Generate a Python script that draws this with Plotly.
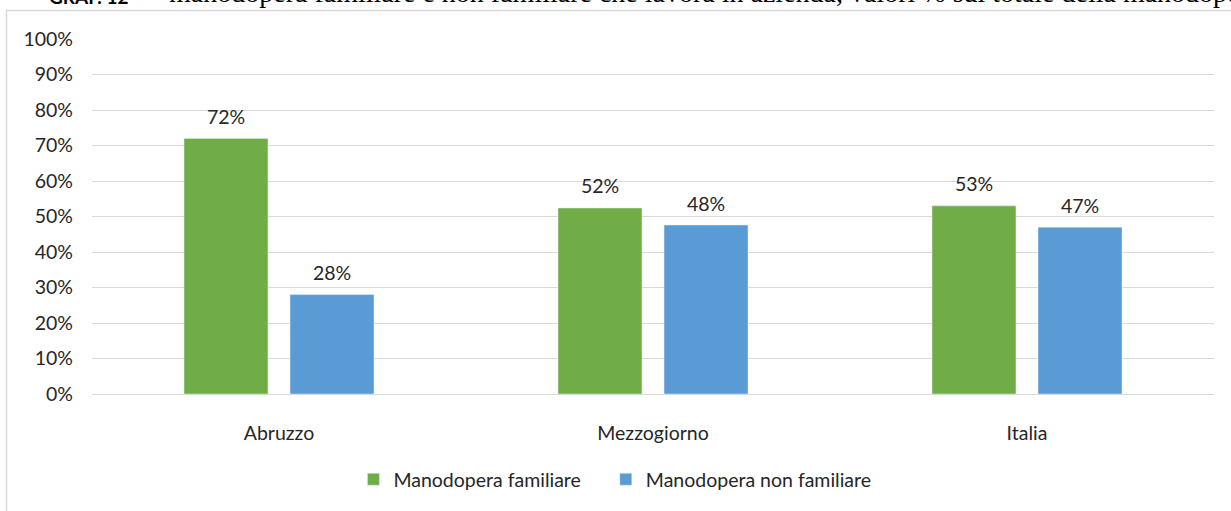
import plotly.graph_objects as go

categories = ["Abruzzo", "Mezzogiorno", "Italia"]
familiare = [72, 52.4, 53]
non_familiare = [28, 47.6, 47]
labels_familiare = ["72%", "52%", "53%"]
labels_non_familiare = ["28%", "48%", "47%"]
y_ticks = list(range(0, 101, 10))

green = "#70AD47"
blue = "#5B9BD5"
txt = "#262626"
sans = "Lato"
fs = 19.5

bargap = 0.433
fig = go.Figure()
fig.add_trace(go.Bar(x=categories, y=familiare,
                     name="Manodopera familiare" + "\u00a0" * 4,
                     marker_color=green))
fig.add_trace(go.Bar(x=categories, y=non_familiare, name="Manodopera non familiare",
                     marker_color=blue))

# value labels above each bar (offset = half a bar slot)
off = (1 - bargap) / 4
for i in range(len(categories)):
    for dx, val, lab in [(-off, familiare[i], labels_familiare[i]),
                         (off, non_familiare[i], labels_non_familiare[i])]:
        fig.add_annotation(x=i + dx, y=val, text=lab, showarrow=False,
                           xref="x", yref="y", yanchor="middle", yshift=22,
                           font=dict(family=sans, size=fs, color=txt))

# title, cut off at the top of the picture
fig.add_annotation(xref="paper", yref="paper", x=-0.04, y=1.0804, xanchor="left",
                   yanchor="bottom", yshift=0, showarrow=False,
                   text="<b>GRAF. 12</b>", font=dict(family=sans, size=19, color="#000"))
fig.add_annotation(xref="paper", yref="paper", x=0.0665, y=1.0804, xanchor="left",
                   yanchor="bottom", yshift=0, showarrow=False,
                   text="manodopera familiare e non familiare che lavora in azienda, "
                        "valori % sul totale della manodopera",
                   font=dict(family="Liberation Serif", size=28, color="#000"))

# chart frame
fig.add_shape(type="rect", xref="paper", yref="paper", x0=-0.0762, x1=1.2,
              y0=-0.6, y1=1.0804, line=dict(color="#d9d9d9", width=1.5),
              fillcolor="rgba(0,0,0,0)", layer="below")

fig.update_layout(
    width=1231, height=511,
    margin=dict(l=92, r=17, t=39, b=105),
    plot_bgcolor="white", paper_bgcolor="white",
    barmode="group", bargap=bargap, bargroupgap=0.208,
    font=dict(family=sans, size=fs, color=txt),
    showlegend=True,
    legend=dict(orientation="h", x=0.233, xanchor="left", y=-0.241, yanchor="middle",
                font=dict(family=sans, size=fs, color=txt), itemwidth=30),
)
fig.update_xaxes(showline=False, ticks="", ticklabelstandoff=25, automargin=False,
                 tickfont=dict(family=sans, size=fs, color=txt))
fig.update_yaxes(range=[0, 100], tickvals=y_ticks,
                 ticktext=[f"{v}%" for v in y_ticks], automargin=False,
                 showgrid=True, gridcolor="#d9d9d9", gridwidth=1.2,
                 zeroline=True, zerolinecolor="#d9d9d9", zerolinewidth=1.2,
                 showline=False, ticks="", ticklabelstandoff=18,
                 tickfont=dict(family=sans, size=fs, color=txt))

fig.write_html("out.html", config={"displayModeBar": False},
               post_script="document.body.style.margin='0';")
